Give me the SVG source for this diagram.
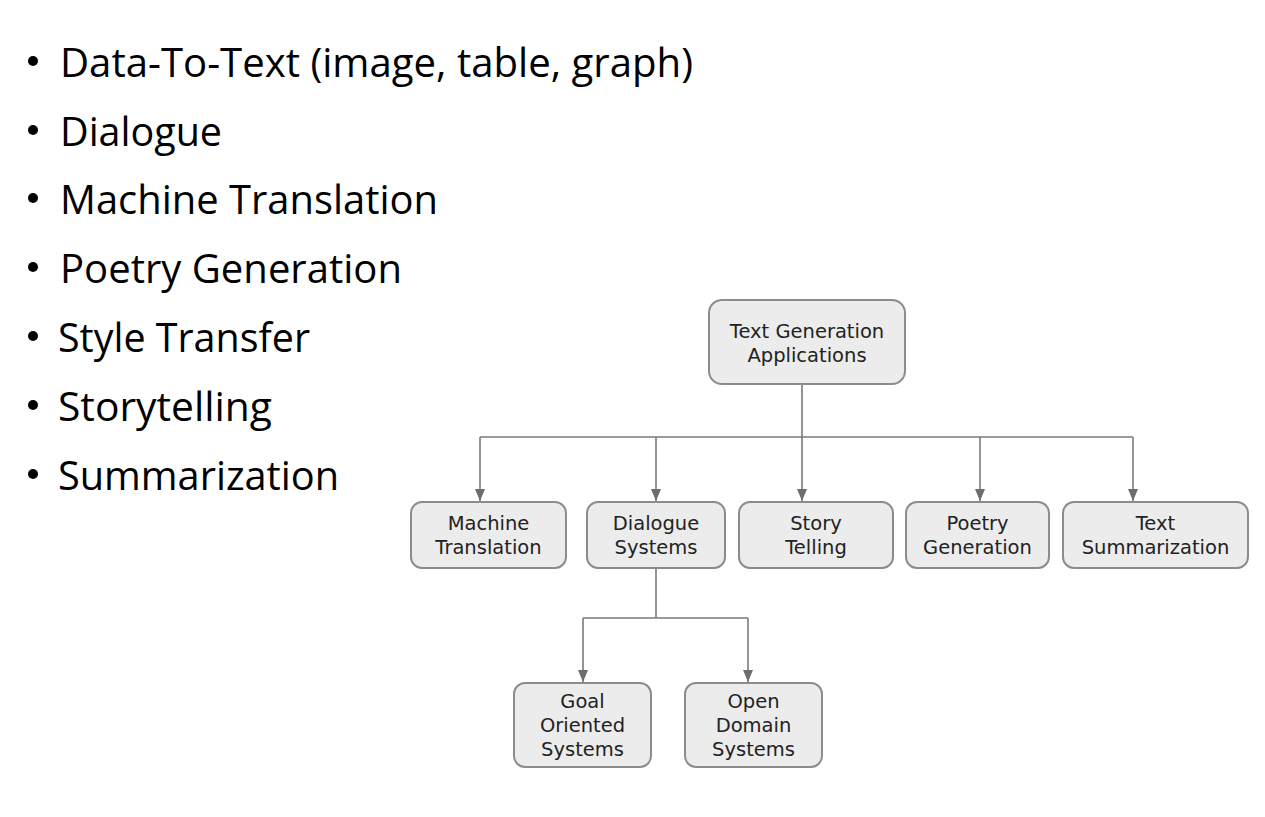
<svg xmlns="http://www.w3.org/2000/svg" width="1265" height="817" viewBox="0 0 1265 817">
<style>
.bul{font-family:"Open Sans","Liberation Sans",sans-serif;font-size:41px;fill:#000}
.dot{fill:#000}
.box{fill:#ececec;stroke:#8c8c8c;stroke-width:2}
.lbl{font-family:"DejaVu Sans","Verdana",sans-serif;font-size:19.5px;fill:#222;text-anchor:middle}
.con{fill:none;stroke:#7a7a7a;stroke-width:1.6}
</style>
<defs>
<marker id="arr" markerWidth="12" markerHeight="10" refX="12" refY="5" orient="auto" markerUnits="userSpaceOnUse" viewBox="0 0 12 10">
<path d="M0,0 L12,5 L0,10 Z" fill="#6e6e6e"/>
</marker>
</defs>
<rect width="1265" height="817" fill="#ffffff"/>
<g id="bullets">
<circle class="dot" cx="33" cy="61" r="5"/>
<text class="bul" x="60" y="77" textLength="633" lengthAdjust="spacingAndGlyphs">Data-To-Text (image, table, graph)</text>
<circle class="dot" cx="33" cy="130" r="5"/>
<text class="bul" x="60" y="146" textLength="162" lengthAdjust="spacingAndGlyphs">Dialogue</text>
<circle class="dot" cx="33" cy="198" r="5"/>
<text class="bul" x="60" y="214" textLength="378" lengthAdjust="spacingAndGlyphs">Machine Translation</text>
<circle class="dot" cx="33" cy="267" r="5"/>
<text class="bul" x="60" y="283" textLength="342" lengthAdjust="spacingAndGlyphs">Poetry Generation</text>
<circle class="dot" cx="33" cy="336" r="5"/>
<text class="bul" x="58" y="352" textLength="252" lengthAdjust="spacingAndGlyphs">Style Transfer</text>
<circle class="dot" cx="33" cy="405" r="5"/>
<text class="bul" x="58" y="421" textLength="214" lengthAdjust="spacingAndGlyphs">Storytelling</text>
<circle class="dot" cx="33" cy="474" r="5"/>
<text class="bul" x="58" y="490" textLength="281" lengthAdjust="spacingAndGlyphs">Summarization</text>
</g>
<g id="connectors">
<path class="con" d="M802,384 V437"/>
<path class="con" d="M480,437 H1133"/>
<path class="con" d="M480,437 V501" marker-end="url(#arr)"/>
<path class="con" d="M656,437 V501" marker-end="url(#arr)"/>
<path class="con" d="M802,437 V501" marker-end="url(#arr)"/>
<path class="con" d="M980,437 V501" marker-end="url(#arr)"/>
<path class="con" d="M1133,437 V501" marker-end="url(#arr)"/>
<path class="con" d="M656,568 V618"/>
<path class="con" d="M583,618 H748"/>
<path class="con" d="M583,618 V682" marker-end="url(#arr)"/>
<path class="con" d="M748,618 V682" marker-end="url(#arr)"/>
</g>
<g id="root">
<rect class="box" x="709" y="300" width="196" height="84" rx="13"/>
<text class="lbl" x="807" y="338">Text Generation</text>
<text class="lbl" x="807" y="362">Applications</text>
</g>
<g id="machine-translation">
<rect class="box" x="411" y="502" width="155" height="66" rx="11"/>
<text class="lbl" x="488.5" y="530">Machine</text>
<text class="lbl" x="488.5" y="554">Translation</text>
</g>
<g id="dialogue-systems">
<rect class="box" x="587" y="502" width="138" height="66" rx="11"/>
<text class="lbl" x="656" y="530">Dialogue</text>
<text class="lbl" x="656" y="554">Systems</text>
</g>
<g id="story-telling">
<rect class="box" x="739" y="502" width="154" height="66" rx="11"/>
<text class="lbl" x="816" y="530">Story</text>
<text class="lbl" x="816" y="554">Telling</text>
</g>
<g id="poetry-generation">
<rect class="box" x="906" y="502" width="143" height="66" rx="11"/>
<text class="lbl" x="977.5" y="530">Poetry</text>
<text class="lbl" x="977.5" y="554">Generation</text>
</g>
<g id="text-summarization">
<rect class="box" x="1063" y="502" width="185" height="66" rx="11"/>
<text class="lbl" x="1155.5" y="530">Text</text>
<text class="lbl" x="1155.5" y="554">Summarization</text>
</g>
<g id="goal-oriented-systems">
<rect class="box" x="514" y="683" width="137" height="84" rx="11"/>
<text class="lbl" x="582.5" y="708">Goal</text>
<text class="lbl" x="582.5" y="732">Oriented</text>
<text class="lbl" x="582.5" y="756">Systems</text>
</g>
<g id="open-domain-systems">
<rect class="box" x="685" y="683" width="137" height="84" rx="11"/>
<text class="lbl" x="753.5" y="708">Open</text>
<text class="lbl" x="753.5" y="732">Domain</text>
<text class="lbl" x="753.5" y="756">Systems</text>
</g>
</svg>
